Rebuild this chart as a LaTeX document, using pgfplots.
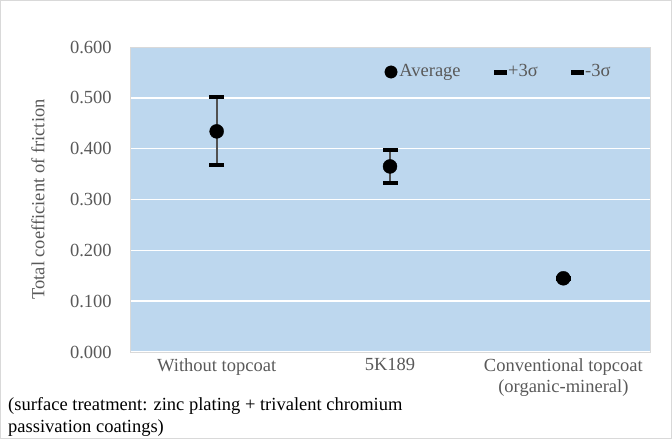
\documentclass[border=0pt]{standalone}
\usepackage{pgfplots}
\pgfplotsset{compat=1.18}
\usepackage{fontspec}
\setmainfont{Liberation Serif}
\definecolor{plotblue}{RGB}{189,215,238}
\definecolor{txtgray}{RGB}{89,89,89}
\definecolor{linegray}{RGB}{80,80,80}
\definecolor{framegray}{RGB}{217,217,217}
\begin{document}
\fontsize{18.5bp}{22bp}\selectfont
\begin{tikzpicture}[x=1bp,y=1bp]
\draw[framegray, line width=1bp] (0.5,0.5) rectangle (671.5,438.5);
\begin{axis}[
  at={(130bp,87bp)}, anchor=south west,
  scale only axis, width=520bp, height=305bp,
  xmin=0, xmax=3, ymin=0, ymax=0.6,
  xtick={0.5,1.5,2.5},
  xticklabels={Without topcoat,5K189,{Conventional topcoat\\(organic-mineral)}},
  xticklabel style={align=center, text=txtgray, font=\fontsize{18.5bp}{21bp}\selectfont},
  ytick={0,0.1,0.2,0.3,0.4,0.5,0.6},
  yticklabel style={text=txtgray, xshift=-12bp, /pgf/number format/.cd, fixed, fixed zerofill, precision=3, assume math mode=true},
  major tick length=0pt,
  ymajorgrids, grid style={white, line width=1.5bp},
  axis background/.style={fill=plotblue},
  axis line style={draw=framegray},
  legend columns=3,
  legend style={at={(0.934,0.918)}, anchor=east, draw=none, fill=none, text=txtgray,
    /tikz/every even column/.append style={column sep=31bp}},
  clip=false,
]
\addplot[linegray, line width=2bp, forget plot] coordinates {(0.5,0.367) (0.5,0.502)};
\addplot[linegray, line width=2bp, forget plot] coordinates {(1.5,0.333) (1.5,0.398)};
\addplot[linegray, line width=2bp, forget plot] coordinates {(2.5,0.145) (2.5,0.146)};
\addplot[only marks, mark=*, mark size=7bp, black,
  legend image code/.code={\fill[black] (4bp,0bp) circle (6.2bp);}]
  coordinates {(0.5,0.434) (1.5,0.365) (2.5,0.145)};
\addlegendentry{Average}
\addplot[only marks, mark=-, mark size=7.5bp, black, mark options={line width=4bp},
  legend image code/.code={\fill[black] (0bp,-2bp) rectangle (12bp,2bp);}]
  coordinates {(0.5,0.502) (1.5,0.398) (2.5,0.146)};
\addlegendentry{+3σ}
\addplot[only marks, mark=-, mark size=7.5bp, black, mark options={line width=4bp},
  legend image code/.code={\fill[black] (0bp,-2bp) rectangle (12bp,2bp);}]
  coordinates {(0.5,0.367) (1.5,0.333) (2.5,0.144)};
\addlegendentry{-3σ}
\end{axis}
\node[rotate=90, text=txtgray] at (38,239.5) {Total coefficient of friction};
\node[anchor=west, align=left, inner sep=0pt, font=\fontsize{18.5bp}{22bp}\selectfont] at (8,22) {(surface treatment: zinc plating + trivalent chromium\\passivation coatings)};
\end{tikzpicture}
\end{document}
